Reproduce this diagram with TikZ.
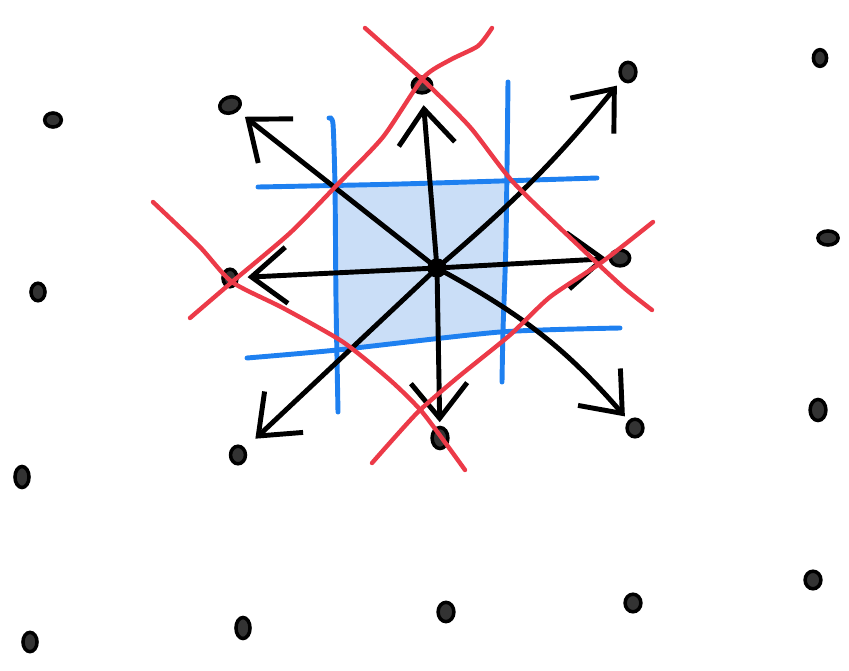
\documentclass[tikz,border=0pt]{standalone}
\usetikzlibrary{arrows.meta,shapes.geometric}
\definecolor{skblue}{RGB}{30,128,240}
\definecolor{skred}{RGB}{236,58,72}
\definecolor{skfill}{RGB}{150,190,240}
\begin{document}
\begin{tikzpicture}[x=0.02cm,y=-0.02cm,
  dot/.style={ellipse,draw=black,fill=black!80,line width=2pt,minimum width=9pt,minimum height=8pt,inner sep=0pt},
  arr/.style={line width=2.8pt,line cap=round,line join=round,-{Straight Barb[length=20pt,width=32pt]},shorten >=4pt},
  bl/.style={skblue,line width=2.8pt,line cap=round},
  rd/.style={skred,line width=2.5pt,line cap=round}]
\useasboundingbox (0,0) rectangle (849,670);
% shaded cell
\fill[skfill,opacity=0.5] (337,187) -- (505,180) -- (502,332) -- (338,350) -- cycle;
% blue lines
\draw[bl] plot[smooth,tension=0.4] coordinates {(258,187) (400,184) (597,178)};
\draw[bl] plot[smooth,tension=0.4] coordinates {(247,358) (337,350) (500,332) (620,328)};
\draw[bl] plot[smooth,tension=0.4] coordinates {(329,118) (333,124) (335,187) (336,300) (338,412)};
\draw[bl] plot[smooth,tension=0.4] coordinates {(508,82) (506,240) (503,330) (502,382)};
% nodes
\node[dot,minimum width=9pt,minimum height=9pt,fill=black] (c) at (437,268) {};
\node[dot,minimum width=11pt,minimum height=9pt] (t) at (422,85) {};
\node[dot,minimum width=12pt,minimum height=9pt,rotate=20] (tl) at (230,105) {};
\node[dot,minimum width=9pt,minimum height=11pt] (tr) at (628,72) {};
\node[dot,minimum width=11pt,minimum height=9pt] (r) at (620,258) {};
\node[dot,minimum width=8pt,minimum height=10pt] (l) at (230,278) {};
\node[dot,minimum width=8.5pt,minimum height=10pt] (bl) at (238,455) {};
\node[dot,minimum width=9pt,minimum height=12pt] (b) at (440,438) {};
\node[dot,minimum width=9pt,minimum height=10pt] (br) at (635,428) {};
% outer dots
\node[dot,minimum width=9.5pt,minimum height=8pt] (o1) at (53,120) {};
\node[dot,minimum width=8pt,minimum height=10pt] (o2) at (38,292) {};
\node[dot,minimum width=8pt,minimum height=12pt] (o3) at (22,477) {};
\node[dot,minimum width=8pt,minimum height=11pt] (o4) at (30,642) {};
\node[dot,minimum width=8pt,minimum height=12pt] (o5) at (243,628) {};
\node[dot,minimum width=9pt,minimum height=11pt] (o6) at (446,612) {};
\node[dot,minimum width=9pt,minimum height=10pt] (o7) at (633,603) {};
\node[dot,minimum width=9pt,minimum height=10pt] (o8) at (813,580) {};
\node[dot,minimum width=9pt,minimum height=12pt] (o9) at (818,410) {};
\node[dot,minimum width=11.5pt,minimum height=8pt] (o10) at (828,238) {};
\node[dot,minimum width=7.5pt,minimum height=9.5pt] (o11) at (820,58) {};
% arrows
\draw[arr,shorten >=6pt] (c) -- (t);
\draw[arr,shorten >=5pt] (c) -- (tl);
\draw[arr,shorten >=4pt] (c) to[bend right=5] (tr);
\draw[arr,shorten >=1pt] (c) -- (r);
\draw[arr,shorten >=5pt] (c) -- (l);
\draw[arr,shorten >=8pt] (c) -- (bl);
\draw[arr,shorten >=2pt] (c) -- (b);
\draw[arr,shorten >=3pt] (c) to[bend left=10] (br);
% red lines
\draw[rd] plot[smooth,tension=0.4] coordinates {(365,28) (423,80) (470,127) (513,182) (580,247) (623,287) (652,310)};
\draw[rd] plot[smooth,tension=0.4] coordinates {(492,28) (478,46) (450,60) (423,78) (383,137) (337,185) (290,233) (232,282) (190,318)};
\draw[rd] plot[smooth,tension=0.4] coordinates {(153,202) (200,247) (232,282) (283,308) (343,342) (390,380) (423,413) (465,470)};
\draw[rd] plot[smooth,tension=0.4] coordinates {(653,222) (602,262) (550,297) (510,335) (457,378) (417,413) (372,463)};
\end{tikzpicture}
\end{document}
